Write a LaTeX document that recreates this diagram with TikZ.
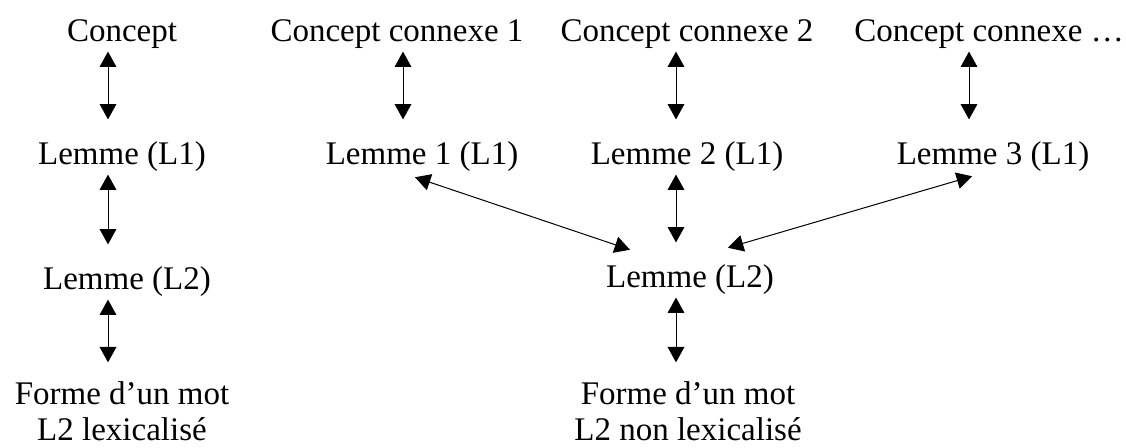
\documentclass[tikz,border=0pt]{standalone}
\usepackage{fontspec}
\setmainfont{Liberation Serif}
\usetikzlibrary{arrows.meta,calc}

\begin{document}
\begin{tikzpicture}[x=0.75pt,y=-0.75pt,>={Triangle[width=12.5pt,length=11.5pt]},
            lbl/.style={inner sep=0pt,font=\fontsize{24.75}{27}\selectfont},
            row/.style={lbl,anchor=base,text height=18pt,text depth=6pt},
            twoline/.style={lbl,anchor=north,align=center},
            link/.style={<->,line width=0.75pt,shorten <=1pt,shorten >=16pt},
            diag/.style={<->,line width=0.75pt}]
            \useasboundingbox (0,0) rectangle (1126,448);
            \node[row] (c0) at (122,42) {Concept};
            \node[row] (c1) at (397,42) {Concept connexe 1};
            \node[row] (c2) at (687,42) {Concept connexe 2};
            \node[row] (c3) at (989,42) {Concept connexe \dots};
            \node[row] (l0) at (122,165) {Lemme (L1)};
            \node[row] (l1) at (422,165) {Lemme 1 (L1)};
            \node[row] (l2) at (687,165) {Lemme 2 (L1)};
            \node[row] (l3) at (993,165) {Lemme 3 (L1)};
            \node[row] (m0) at (127,290) {Lemme (L2)};
            \node[row] (m1) at (690,288) {Lemme (L2)};
            \node[twoline] (f0) at (122,381) {Forme d’un mot\\L2 lexicalisé};
            \node[twoline] (f1) at (688,381) {Forme d’un mot\\L2 non lexicalisé};
            \coordinate (ax0) at (108,0);
            \coordinate (ax1) at (403,0);
            \coordinate (ax2) at (676,0);
            \coordinate (ax3) at (969,0);
            \draw[link] (c0.south -| ax0) -- (l0.north -| ax0);
            \draw[link] (l0.south -| ax0) -- (m0.north -| ax0);
            \draw[link,shorten >=14pt] (m0.south -| ax0) -- (f0.north -| ax0);
            \draw[link] (c1.south -| ax1) -- (l1.north -| ax1);
            \draw[link] (c2.south -| ax2) -- (l2.north -| ax2);
            \draw[link] (l2.south -| ax2) -- (m1.north -| ax2);
            \draw[link,shorten >=14pt] (m1.south -| ax2) -- (f1.north -| ax2);
            \draw[link] (c3.south -| ax3) -- (l3.north -| ax3);
            \draw[diag] ($(l1.south)+(-7,4)$) -- ($(m1.north)+(-60,-14)$);
            \draw[diag] ($(m1.north)+(38,-16)$) -- ($(l3.south)+(-21,3)$);
        \end{tikzpicture}
\end{document}
